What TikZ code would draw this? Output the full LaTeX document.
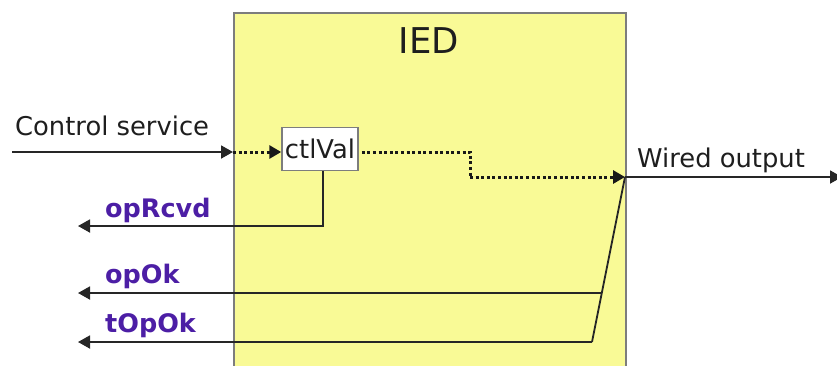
\documentclass[tikz,border=0pt]{standalone}
\usepackage{fontspec}
\setmainfont{DejaVu Sans}
\usetikzlibrary{arrows.meta,calc}
\definecolor{iedfill}{RGB}{249,250,150}
\definecolor{boxline}{RGB}{125,125,125}
\definecolor{sigcol}{RGB}{76,30,165}
\definecolor{txt}{RGB}{30,30,30}
\tikzset{
  lbl/.style={inner sep=0pt, text=txt, font=\fontsize{25.8}{30}\selectfont},
  sig/.style={inner sep=0pt, text=sigcol, font=\fontsize{25.5}{30}\selectfont\bfseries},
  wire/.style={draw=black!85, line width=1.8pt},
  arr/.style={wire, -{Triangle[length=12pt,width=13pt]}},
  dotwire/.style={draw=black!90, line width=3pt, dash pattern=on 3pt off 2.6pt},
  dotarr/.style={dotwire, -{Triangle[length=12pt,width=13pt]}},
}
\begin{document}
\begin{tikzpicture}[x=1pt,y=-1pt]
\useasboundingbox (0,0) rectangle (837,365);
\node[draw=boxline, line width=1.5pt, fill=iedfill, minimum width=392pt, minimum height=380pt, anchor=north west, inner sep=0pt] (ied) at (233,12) {};
\node[lbl, font=\fontsize{35.5}{40}\selectfont, anchor=base] (iedlbl) at (429,53) {IED};
\node[draw=boxline, line width=1.5pt, fill=white, minimum width=76pt, minimum height=43pt, inner sep=0pt, text=txt, font=\fontsize{25.8}{30}\selectfont] (ctl) at (320,149) {ctlVal};

\coordinate (csStart) at (12,152);
\coordinate (inA) at (233,152);
\coordinate (step1) at (470,152);
\coordinate (step2) at (470,177);
\coordinate (J) at (625,177);
\coordinate (wEnd) at (842,177);
\coordinate (B) at (592,342);
\coordinate (rcvdEnd) at (78,226);
\coordinate (okEnd) at (78,293);
\coordinate (tokEnd) at (78,342);

\node[lbl, anchor=base west] (cslbl) at (15,135) {Control service};
\node[lbl, anchor=base west] (wlbl) at (637,167) {Wired output};
\node[sig, anchor=base west] (rcvdlbl) at (105,217) {opRcvd};
\node[sig, anchor=base west] (oklbl) at (105,283) {opOk};
\node[sig, anchor=base west] (toklbl) at (105,332) {tOpOk};

\draw[arr] (csStart) -- (inA);
\draw[dotarr] (inA) -- (ctl.west |- inA);
\draw[dotwire] ([xshift=3pt]ctl.east |- inA) -- (step1) -- (step2);
\draw[dotarr] (step2) -- (J);
\draw[arr] (J) -- (wEnd);
\draw[arr] ([xshift=3pt]ctl.south) |- (rcvdEnd);
\draw[wire] (J) -- (B);
\draw[arr] (B) -- (tokEnd);
\draw[arr] ($(J)!0.703!(B)$) -- (okEnd);
\end{tikzpicture}
\end{document}
